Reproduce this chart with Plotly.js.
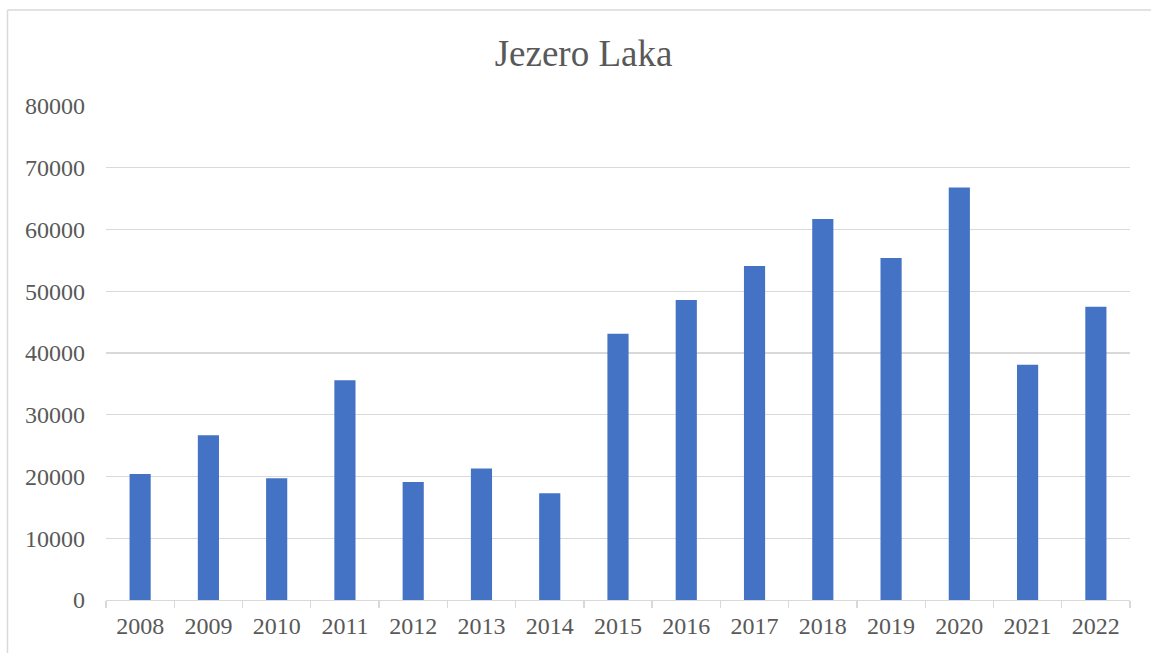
<!DOCTYPE html>
<html>
<head>
<meta charset="utf-8">
<script src="https://cdn.plot.ly/plotly-3.0.1.min.js"></script>
<style>
html,body{margin:0;padding:0;background:#fff;}
#chart{width:1151px;height:653px;}
</style>
</head>
<body>
<div id="chart"></div>
<script>
const years = ["2008","2009","2010","2011","2012","2013","2014","2015","2016","2017","2018","2019","2020","2021","2022"];
const visitors = [20400, 26700, 19700, 35600, 19100, 21300, 17300, 43100, 48600, 54100, 61700, 55400, 66800, 38100, 47500];
const yTicks = [0,10000,20000,30000,40000,50000,60000,70000,80000];

const trace = {
  type: 'bar',
  x: years,
  y: visitors,
  marker: {color: '#4472C4', line: {color: '#ffffff', width: 0}},
  hoverinfo: 'x+y'
};

const W = 1151, H = 653;
const L = 106, R = 21, T = 106, B = 53;
const pw = W - L - R, ph = H - T - B;
const px2x = p => (p - L) / pw;
const px2y = p => (H - B - p) / ph;

const layout = {
  width: W, height: H,
  margin: {l: L, r: R, t: T, b: B, pad: 0},
  paper_bgcolor: '#ffffff',
  plot_bgcolor: '#ffffff',
  bargap: 0.69,
  showlegend: false,
  font: {family: '"Liberation Serif", "Times New Roman", serif', color: '#595959', size: 24},
  title: {
    text: 'Jezero Laka',
    font: {family: '"Liberation Serif", "Times New Roman", serif', size: 37, color: '#595959'},
    x: 583.5 / W, xref: 'container', xanchor: 'center',
    y: 1 - 53 / H, yref: 'container', yanchor: 'middle'
  },
  xaxis: {
    type: 'category',
    showgrid: false,
    showline: true, linecolor: '#d9d9d9', linewidth: 1.3,
    ticks: 'outside', tickson: 'boundaries', ticklen: 7, tickcolor: '#d9d9d9', tickwidth: 1.3,
    tickfont: {size: 24, color: '#595959'},
    ticklabelstandoff: 4,
    zeroline: false,
    fixedrange: true
  },
  yaxis: {
    range: [0, 80000],
    tickvals: yTicks,
    ticktext: yTicks.map(String),
    showgrid: true, gridcolor: '#d9d9d9', gridwidth: 1.3,
    showline: false, zeroline: false,
    ticks: '',
    tickfont: {size: 24, color: '#595959'},
    ticklabelstandoff: 20,
    fixedrange: true
  },
  shapes: [
    {type: 'line', xref: 'paper', yref: 'paper',
     x0: px2x(7.5), x1: px2x(7.5),
     y0: px2y(H + 5), y1: px2y(10),
     line: {color: '#d9d9d9', width: 1.5}},
    {type: 'line', xref: 'paper', yref: 'paper',
     x0: px2x(7.5), x1: px2x(W + 5),
     y0: px2y(10), y1: px2y(10),
     line: {color: '#d9d9d9', width: 1.5}}
  ]
};

Plotly.newPlot('chart', [trace], layout, {displayModeBar: false, staticPlot: true});
</script>
</body>
</html>
